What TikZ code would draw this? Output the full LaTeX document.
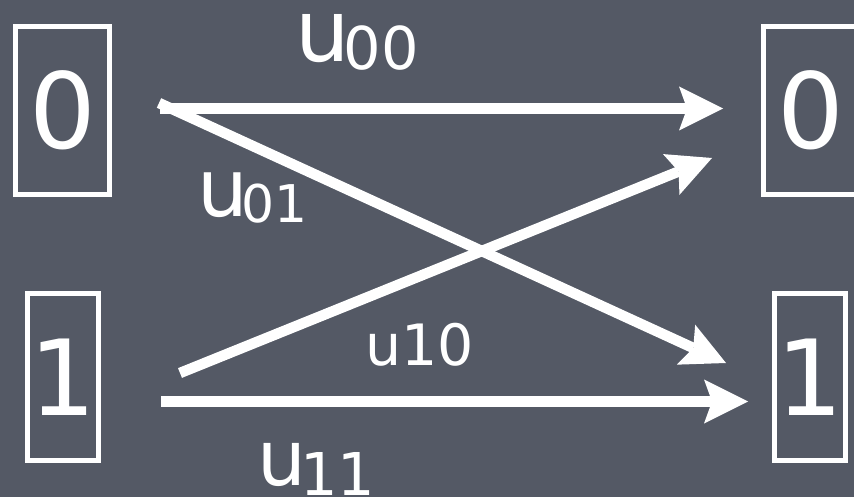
\documentclass[tikz,border=0pt]{standalone}
\usepackage{fontspec}
\newfontfamily\df{DejaVu Sans}
\usetikzlibrary{arrows.meta}
\definecolor{slate}{RGB}{84,89,101}
\tikzset{
  numbox/.style={draw=white, line width=5pt, minimum width=94pt, minimum height=168pt,
    inner sep=0pt, text=white, font=\df\fontsize{105}{105}\selectfont},
  numboxn/.style={numbox, minimum width=71pt, minimum height=167pt},
  arr/.style={draw=white, line width=10.5pt,
    -{Stealth[length=44pt,width=44pt,inset=8pt,line width=0pt]}},
  lbl/.style={text=white, inner sep=0pt, anchor=base west},
}
\newcommand{\bigu}[1]{{\df\fontsize{#1}{#1}\selectfont u}}
\newcommand{\subn}[3]{\kern-6pt\raisebox{-#2pt}{\df\fontsize{#1}{#1}\selectfont #3}}
\begin{document}
\begin{tikzpicture}[x=1pt,y=-1pt]
  \fill[slate] (0,0) rectangle (854,497);
  \useasboundingbox (0,0) rectangle (854,497);
  \clip (0,0) rectangle (854,497);
  % boxes
  \node[numbox] (zl) at (62.5,110.5) {0};
  \node[numbox] (zr) at (810.5,110.5) {0};
  \node[numboxn] (ol) at (63,377) {1};
  \node[numboxn] (or) at (810,377) {1};
  % arrow end points
  \coordinate (a1s) at (160,108.5);
  \coordinate (a1e) at (723,108.5);
  \coordinate (a2s) at (159,103);
  \coordinate (a2e) at (726,363);
  \coordinate (a3s) at (180,373);
  \coordinate (a3e) at (712,158);
  \coordinate (a4s) at (161,401.5);
  \coordinate (a4e) at (748,401.5);
  \draw[arr] (a1s) -- (a1e);
  \draw[arr] (a2s) -- (a2e);
  \draw[arr] (a3s) -- (a3e);
  \draw[arr] (a4s) -- (a4e);
  % labels
  \node[lbl] (l00) at (295,62) {\bigu{86}\subn{59}{8}{00}};
  \node[lbl] (l01) at (197,217) {\bigu{80}\subn{52}{6}{01}};
  \node[lbl] (l10) at (365,365) {\df\fontsize{57}{57}\selectfont u10};
  \node[lbl] (l11) at (257,485) {\bigu{77}\subn{59}{10}{11}};
\end{tikzpicture}
\end{document}
